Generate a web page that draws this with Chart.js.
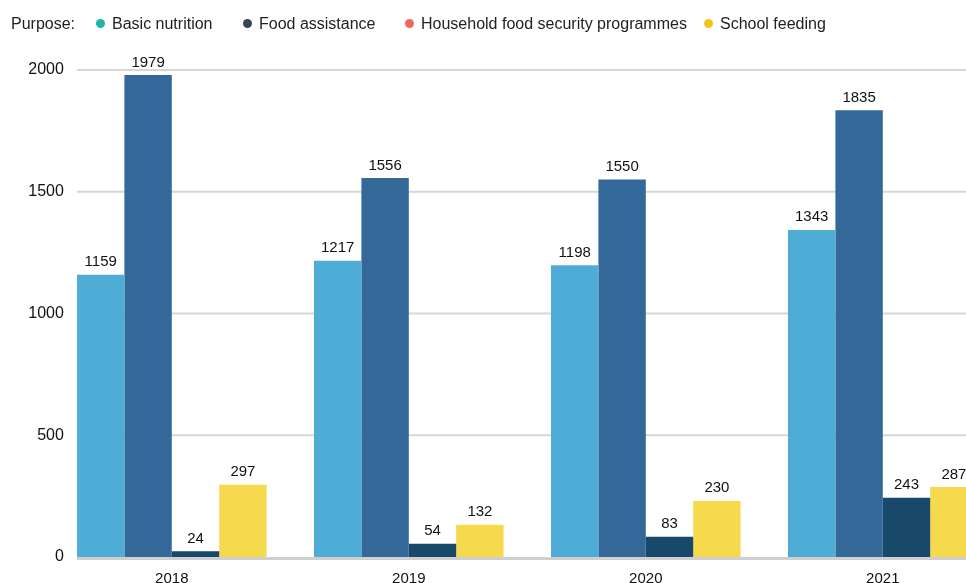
<!DOCTYPE html>
<html>
<head>
<meta charset="utf-8">
<script src="https://cdn.jsdelivr.net/npm/chart.js@4.4.1/dist/chart.umd.min.js"></script>
<style>
    body { margin: 0; overflow: hidden; background: #fff; font-family: "Liberation Sans", Arial, sans-serif; }
    #legend { position: absolute; top: 14px; left: 0; height: 22px; font-size: 16px; color: #222; z-index: 2; }
    #legend .item { position: absolute; top: 0; white-space: nowrap; line-height: 20px; }
    #legend .dot { display: inline-block; width: 9px; height: 9px; border-radius: 50%; margin-right: 7px; vertical-align: 1px; }
    #wrap { position: absolute; top: 0; left: 0; }
</style>
</head>
<body>
<div id="legend"></div>
<div id="wrap"><canvas id="purpose-Chart" width="1010" height="600"></canvas></div>
<script>
// data per tahun
const years = ['2018', '2019', '2020', '2021'];
const basicNutrition = [1159, 1217, 1198, 1343];
const foodAssistance = [1979, 1556, 1550, 1835];
const householdFoodSecurity = [24, 54, 83, 243];
const schoolFeeding = [297, 132, 230, 287];
const yTicks = [0, 500, 1000, 1500, 2000];

const seriesNames = ['Basic nutrition', 'Food assistance', 'Household food security programmes', 'School feeding'];
const barColors = ['#4eacd7', '#336899', '#19496a', '#f6d94c'];
const dotColors = ['#1ab6a6', '#37474f', '#f4675f', '#f1c419'];

// legenda manual (posisi item)
const legend = document.getElementById('legend');
const legendX = [11, 96, 243, 405, 704];
legend.innerHTML = '<span class="item" style="left:' + legendX[0] + 'px">Purpose:</span>' +
    seriesNames.map((name, i) =>
        '<span class="item" style="left:' + legendX[i + 1] + 'px"><span class="dot" style="background:' + dotColors[i] + '"></span>' + name + '</span>'
    ).join('');

// garis grid mulai dari tepi kiri bar pertama
const gridPlugin = {
    id: 'gridFromBars',
    beforeDatasetsDraw(chart) {
        const ctx = chart.ctx;
        const y = chart.scales.y;
        const first = chart.getDatasetMeta(0).data[0];
        const startX = first.x - first.width / 2;
        ctx.save();
        yTicks.forEach(v => {
            const py = y.getPixelForValue(v) + (v === 0 ? 1.5 : 0);
            ctx.beginPath();
            ctx.lineWidth = v === 0 ? 3 : 2;
            ctx.strokeStyle = v === 0 ? '#cfcfcf' : '#d6d6d6';
            ctx.moveTo(startX, py);
            ctx.lineTo(chart.width, py);
            ctx.stroke();
        });
        ctx.restore();
    }
};

// angka di atas setiap bar
const valueLabels = {
    id: 'valueLabels',
    afterDatasetsDraw(chart) {
        const ctx = chart.ctx;
        ctx.save();
        ctx.font = '15px "Liberation Sans", Arial, sans-serif';
        ctx.fillStyle = '#111';
        ctx.textAlign = 'center';
        ctx.textBaseline = 'alphabetic';
        chart.data.datasets.forEach((ds, i) => {
            chart.getDatasetMeta(i).data.forEach((bar, j) => {
                ctx.fillText(ds.data[j], bar.x, bar.y - 8.5);
            });
        });
        ctx.restore();
    }
};

const ctx = document.getElementById('purpose-Chart').getContext('2d');
new Chart(ctx, {
    type: 'bar',
    data: {
        labels: years,
        datasets: [basicNutrition, foodAssistance, householdFoodSecurity, schoolFeeding].map((d, i) => ({
            label: seriesNames[i],
            data: d,
            backgroundColor: barColors[i],
            borderWidth: 0,
            categoryPercentage: 0.8,
            barPercentage: 1.0
        }))
    },
    options: {
        responsive: false,
        animation: false,
        devicePixelRatio: 1,
        layout: { padding: { top: 70, right: 8.7, left: 0, bottom: 0 } },
        plugins: {
            legend: { display: false },
            tooltip: { enabled: false }
        },
        scales: {
            x: {
                grid: { display: false, drawTicks: false },
                border: { display: false },
                ticks: {
                    padding: 12.5,
                    color: '#111',
                    font: { family: '"Liberation Sans", Arial, sans-serif', size: 15 }
                },
                afterFit(scale) { scale.height = 43; }
            },
            y: {
                min: 0,
                max: 2000,
                afterBuildTicks(scale) { scale.ticks = yTicks.map(v => ({ value: v })); },
                grid: { display: false, drawTicks: false },
                border: { display: false },
                ticks: {
                    mirror: true,          // label tidak ikut terpotong area sumbu
                    crossAlign: 'far',     // rata kanan
                    padding: -25,
                    color: '#111',
                    callback: v => String(v),
                    font: { family: '"Liberation Sans", Arial, sans-serif', size: 16 }
                },
                afterFit(scale) { scale.width = 53.3; }
            }
        }
    },
    plugins: [gridPlugin, valueLabels]
});
</script>
</body>
</html>
